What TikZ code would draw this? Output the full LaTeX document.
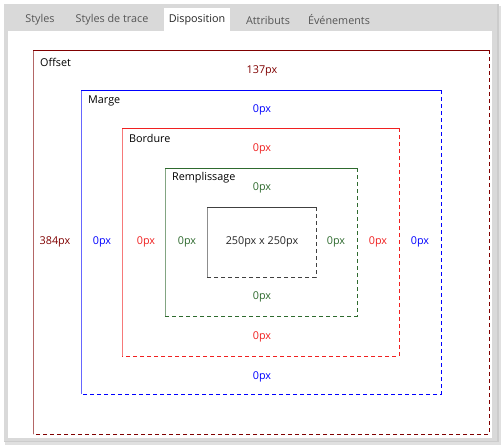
\documentclass[tikz,border=0pt]{standalone}
\usepackage{fontspec}
\setmainfont{Open Sans}
\definecolor{offc}{HTML}{800000}
\definecolor{marc}{HTML}{0000FF}
\definecolor{borc}{HTML}{F02020}
\definecolor{remc}{HTML}{2E6A2E}
\definecolor{conc}{HTML}{404040}
\definecolor{tabbg}{HTML}{D9D9D9}
\definecolor{tabtx}{HTML}{555555}
\tikzset{
  lbl/.style={inner sep=0pt, font=\fontsize{10.8}{12}\selectfont},
  ttl/.style={lbl, anchor=west, text=black},
  tabt/.style={inner sep=0pt, font=\fontsize{10.8}{12}\selectfont, text=tabtx},
  dsh/.style={dash pattern=on 4pt off 3pt},
  bw/.style={line width=0.9pt}
}
\newcommand{\myframebox}[5]{%
  \draw[bw,#1!60] (#2,#5) -- (#2,#3);
  \draw[bw,#1] (#2,#3) -- (#4,#3);
  \draw[bw,#1,dsh] (#4,#3) -- (#4,#5) -- (#2,#5);
}
\begin{document}
\begin{tikzpicture}[x=1pt,y=-1pt]
\useasboundingbox (0,0) rectangle (504,447);
\fill[white] (0,0) rectangle (504,447);
% shadow
\fill[black!12] (5,6) rectangle (501,445);
\fill[black!20] (4,4) rectangle (499,442);
% panel
\fill[tabbg] (4,4) rectangle (497,441);
\fill[white] (8,31) rectangle (492,438);
% selected tab
\fill[white] (164,8) rectangle (230,31);
\node[tabt] (t1) at (40,20) {Styles};
\node[tabt] (t2) at (112,20) {Styles de trace};
\node[tabt, text=black!85] (t3) at (197,20) {Disposition};
\node[tabt] (t4) at (268,20) {Attributs};
\node[tabt] (t5) at (339,20) {Événements};
% boxes
\myframebox{offc}{33}{50}{489}{434}
\myframebox{marc}{81}{90}{441}{394}
\myframebox{borc}{122}{128}{399}{356}
\myframebox{remc}{165}{168}{357}{316}
\myframebox{conc}{207}{207}{316}{277}
% titles
\node[ttl] (toff) at (40,62) {Offset};
\node[ttl] (tmar) at (88,101) {Marge};
\node[ttl] (tbor) at (129,138) {Bordure};
\node[ttl] (trem) at (172,178) {Remplissage};
% offset values
\node[lbl, text=offc] (o1) at (262,71) {137px};
\node[lbl, text=offc] (o2) at (55,242) {384px};
% marge values
\node[lbl, text=marc] (m1) at (262,110) {0px};
\node[lbl, text=marc] (m2) at (102,242) {0px};
\node[lbl, text=marc] (m3) at (420,242) {0px};
\node[lbl, text=marc] (m4) at (262,377) {0px};
% bordure values
\node[lbl, text=borc] (b1) at (262,149) {0px};
\node[lbl, text=borc] (b2) at (146,242) {0px};
\node[lbl, text=borc] (b3) at (378,242) {0px};
\node[lbl, text=borc] (b4) at (262,337) {0px};
% remplissage values
\node[lbl, text=remc] (r1) at (262,188) {0px};
\node[lbl, text=remc] (r2) at (187,242) {0px};
\node[lbl, text=remc] (r3) at (336,242) {0px};
\node[lbl, text=remc] (r4) at (262,297) {0px};
% content
\node[lbl, text=black!85] (c) at (262,242) {250px x 250px};
\end{tikzpicture}
\end{document}
